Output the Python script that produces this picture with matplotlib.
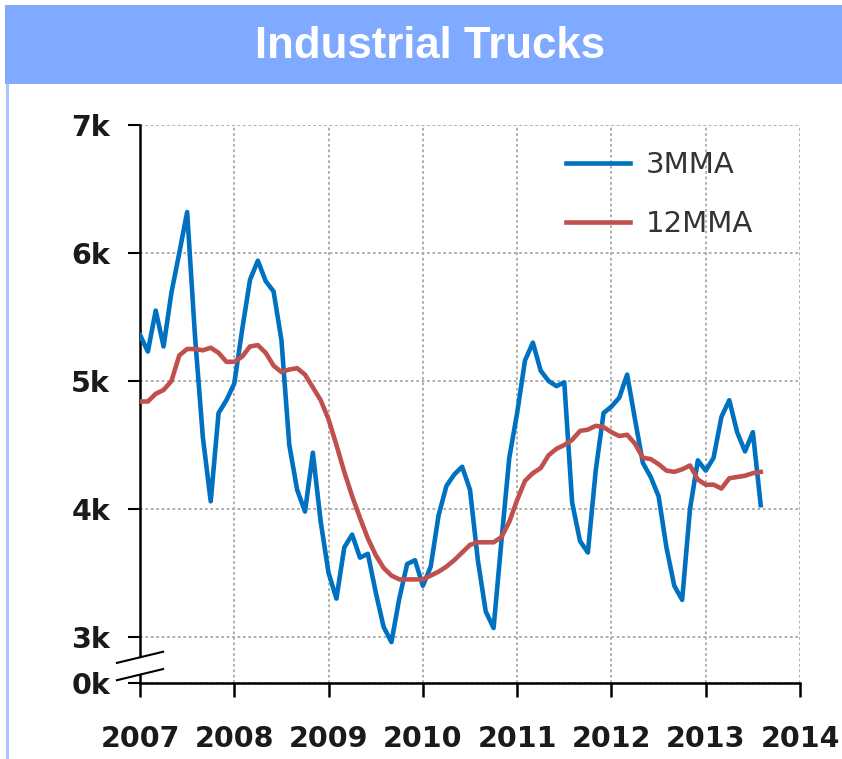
import numpy as np
import matplotlib
matplotlib.use('Agg')
from matplotlib import pyplot as plt
from matplotlib.patches import Rectangle, Polygon

# monthly values, Jan 2007 .. Aug 2013
start_year = 2007
mma3 = [5360, 5230, 5550, 5270, 5690, 6000, 6320, 5350, 4560, 4060,
        4750, 4850, 4980, 5400, 5790, 5940, 5780, 5700, 5320, 4500,
        4150, 3980, 4440, 3900, 3500, 3300, 3700, 3800, 3620, 3650,
        3350, 3080, 2960, 3300, 3570, 3600, 3400, 3550, 3950, 4180,
        4270, 4330, 4150, 3600, 3200, 3070, 3750, 4400, 4750, 5160,
        5300, 5080, 5000, 4960, 4990, 4050, 3750, 3660, 4300, 4750,
        4800, 4870, 5050, 4700, 4360, 4250, 4100, 3700, 3400, 3290,
        4000, 4380, 4300, 4400, 4720, 4850, 4600, 4450, 4600, 4030]
mma12 = [4840, 4840, 4900, 4930, 5000, 5200, 5250, 5250, 5240, 5260,
         5220, 5150, 5150, 5190, 5270, 5280, 5220, 5120, 5070, 5090,
         5100, 5050, 4950, 4850, 4700, 4500, 4290, 4100, 3930, 3770,
         3640, 3540, 3480, 3450, 3450, 3450, 3450, 3480, 3510, 3550,
         3600, 3660, 3720, 3740, 3740, 3740, 3780, 3900, 4070, 4220,
         4280, 4320, 4420, 4470, 4500, 4540, 4610, 4620, 4650, 4640,
         4600, 4570, 4580, 4510, 4400, 4390, 4350, 4300, 4290, 4310,
         4340, 4230, 4190, 4190, 4160, 4240, 4250, 4260, 4280, 4290]
series_names = ['3MMA', '12MMA']
title = 'Industrial Trucks'
years = list(range(2007, 2015))
y_ticks = [3000, 4000, 5000, 6000, 7000]
y_labels = ['3k', '4k', '5k', '6k', '7k']

BLUE = '#0070c0'
RED = '#c0504d'
BAR = '#80aaff'

x = start_year + np.arange(len(mma3)) / 12.0

fig = plt.figure(figsize=(8.42, 7.59), dpi=100)
fig.patch.set_facecolor('white')

# title bar + left border
fig.patches.append(Rectangle((5 / 842, 1 - 84 / 759), 1, 79 / 759,
                             transform=fig.transFigure, facecolor=BAR,
                             edgecolor='none', zorder=0))
fig.patches.append(Rectangle((6 / 842, 0), 3 / 842, 1 - 84 / 759,
                             transform=fig.transFigure, facecolor='#a9c4ff',
                             edgecolor='none', zorder=0))
fig.text(0.511, 1 - 46 / 759, title, color='white', fontsize=31.5,
         family='Liberation Sans', fontweight='bold', ha='center', va='center')

ax = fig.add_axes([140 / 842, 1 - 683 / 759, 660 / 842, 558 / 759])

# broken axis: bottom of the axis stands for 0k
y_zero = 3000 - 46 / 128 * 1000
ax.set_xlim(2007, 2014)
ax.set_ylim(y_zero, 7000)

ax.plot(x, mma3, color=BLUE, lw=3.3, label=series_names[0], zorder=3)
ax.plot(x, mma12, color=RED, lw=3.3, label=series_names[1], zorder=3)

ax.set_xticks(years)
ax.set_xticklabels([str(y) for y in years])
ax.set_yticks([y_zero] + y_ticks)
ax.set_yticklabels(['0k'] + y_labels)

for s in ['top', 'right']:
    ax.spines[s].set_visible(False)
for s in ['left', 'bottom']:
    ax.spines[s].set_linewidth(1.8)
    ax.spines[s].set_color('black')

ax.grid(True, color='#a8a8a8', linestyle=(0, (1.5, 1.5)), lw=1.3, zorder=1)
ax.tick_params(axis='x', direction='out', length=10, width=1.8, pad=20,
               labelsize=20.5, labelcolor='#1a1a1a')
ax.tick_params(axis='y', direction='out', length=8.5, width=1.5, pad=13,
               labelsize=20.5, labelcolor='#1a1a1a')
for lab in ax.get_xticklabels() + ax.get_yticklabels():
    lab.set_fontweight('bold')

# break marks on the y axis
tr = ax.transAxes
ax.add_patch(Polygon([(-0.035, 0.005), (0.035, 0.025), (0.035, 0.056), (-0.035, 0.036)],
                     closed=True, transform=tr, facecolor='white', edgecolor='none',
                     clip_on=False, zorder=4))
ax.plot([-0.035, 0.035], [0.036, 0.056], transform=tr, color='black', lw=1.5,
        clip_on=False, zorder=5)
ax.plot([-0.035, 0.035], [0.005, 0.025], transform=tr, color='black', lw=1.5,
        clip_on=False, zorder=5)

leg = ax.legend(loc='upper left', bbox_to_anchor=(0.605, 1.0), frameon=False,
                fontsize=21, handlelength=2.2, handletextpad=0.55,
                labelspacing=1.05)
for t in leg.get_texts():
    t.set_color('#333333')

fig.savefig('out.png', dpi=100)
